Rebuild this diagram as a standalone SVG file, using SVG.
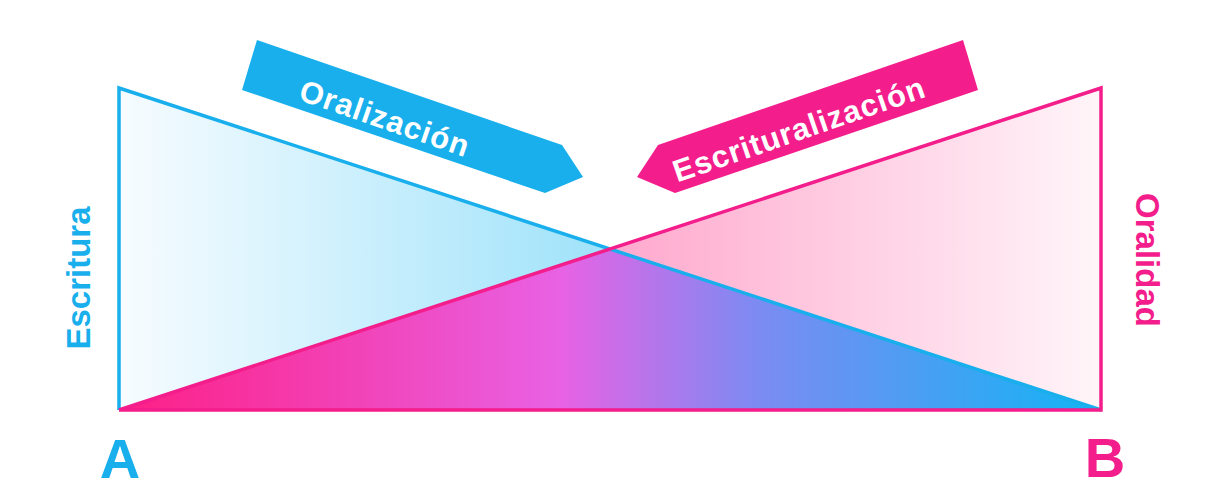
<svg xmlns="http://www.w3.org/2000/svg" width="1211" height="496" viewBox="0 0 1211 496">
<defs>
<linearGradient id="gBlue" gradientUnits="userSpaceOnUse" x1="119" y1="0" x2="610" y2="0">
<stop offset="0" stop-color="#f7fcff"/>
<stop offset="1" stop-color="#9ee2fa"/>
</linearGradient>
<linearGradient id="gPink" gradientUnits="userSpaceOnUse" x1="610" y1="0" x2="1101" y2="0">
<stop offset="0" stop-color="#ffa8cd"/>
<stop offset="1" stop-color="#fff5f9"/>
</linearGradient>
<linearGradient id="gMix" gradientUnits="userSpaceOnUse" x1="119" y1="0" x2="1101" y2="0">
<stop offset="0" stop-color="#fd1f85"/>
<stop offset="0.45" stop-color="#e862e4"/>
<stop offset="0.65" stop-color="#7c8bf2"/>
<stop offset="1" stop-color="#12b4f4"/>
</linearGradient>
<style>
.lbl{font-family:"Liberation Sans",Arial,sans-serif;font-weight:bold}
.arrowtxt{fill:#ffffff;font-size:31px;letter-spacing:1px}
.blue{fill:#18afec}
.pink{fill:#f31d8b}
</style>
</defs>
<rect width="1211" height="496" fill="#ffffff"/>
<g id="triangles">
<polygon id="escritura-tri" points="119,88 119,410 1101,410" fill="url(#gBlue)"/>
<polygon id="oralidad-tri" points="1101,88 1101,410 119,410" fill="url(#gPink)"/>
<polygon id="overlap" points="119,410 610,249 1101,410" fill="url(#gMix)"/>
</g>
<g id="connectors" fill="none" stroke-width="3.5" stroke-linejoin="miter">
<polyline points="119,410 119,88 1101,410" stroke="#18afec"/>
<polyline points="119,410 1101,410 1101,88 119,410" stroke="#f31d8b"/>
</g>
<g id="oralizacion">
<polygon points="257,40 562,145 583,177 545,193 242,90" fill="#18afec"/>
<text class="lbl arrowtxt" x="0" y="0" text-anchor="middle" transform="translate(385,118) rotate(19)" dy="11">Oralización</text>
</g>
<g id="escrituralizacion">
<polygon points="963,40 658,145 637,177 675,193 978,90" fill="#f31d8b"/>
<text class="lbl arrowtxt" x="0" y="0" text-anchor="middle" transform="translate(799,129) rotate(-19)" dy="11">Escrituralización</text>
</g>
<g id="escritura">
<text class="lbl blue" font-size="33" text-anchor="middle" transform="translate(90,278) rotate(-90)">Escritura</text>
</g>
<g id="oralidad">
<text class="lbl pink" font-size="33" text-anchor="middle" transform="translate(1136,260) rotate(90)">Oralidad</text>
</g>
<g id="a">
<text class="lbl blue" font-size="56" x="120" y="478" text-anchor="middle">A</text>
</g>
<g id="b">
<text class="lbl pink" font-size="56" x="1105" y="477" text-anchor="middle">B</text>
</g>
</svg>
